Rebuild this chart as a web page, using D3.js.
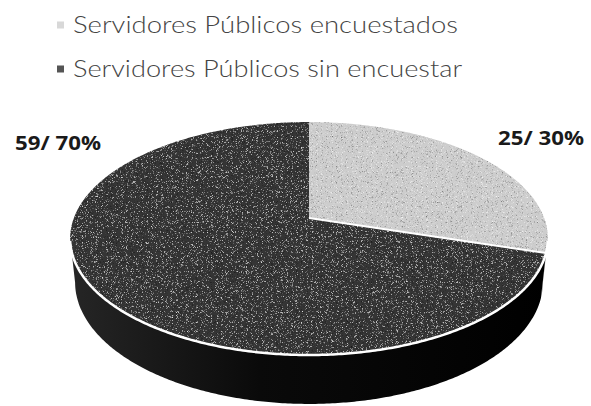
<!DOCTYPE html>
<html>
<head>
<meta charset="utf-8">
<script src="https://cdn.jsdelivr.net/npm/d3@7"></script>
<style>
  body { margin: 0; background: #fff; }
  svg { display: block; }
</style>
</head>
<body>
<svg width="591" height="406"></svg>
<script>
// data
const categories = ["Servidores Públicos encuestados", "Servidores Públicos sin encuestar"];
const values = [25, 59];
const colors = ["#cdcdcd", "#363636"];

const width = 591, height = 406;
const total = d3.sum(values);
const labels = values.map(v => `${v}/ ${Math.round(100 * v / total)}%`);

const svg = d3.select("svg");
const defs = svg.append("defs");

// side gradient (a bit lighter on the left, black on the right)
const grad = defs.append("linearGradient")
    .attr("id", "side")
    .attr("gradientUnits", "userSpaceOnUse")
    .attr("x1", 68).attr("x2", 548).attr("y1", 0).attr("y2", 0);
grad.append("stop").attr("offset", "0%").attr("stop-color", "#262626");
grad.append("stop").attr("offset", "40%").attr("stop-color", "#0a0a0a");
grad.append("stop").attr("offset", "100%").attr("stop-color", "#000");

// scan grain, only on the top faces
const grain = defs.append("filter").attr("id", "grain")
    .attr("x", 0).attr("y", 0).attr("width", "100%").attr("height", "100%");
grain.append("feTurbulence").attr("type", "fractalNoise").attr("baseFrequency", 1.8)
    .attr("numOctaves", 1).attr("seed", 4).attr("result", "n");
grain.append("feColorMatrix").attr("in", "n").attr("type", "matrix")
    .attr("values", "0 0 0 0 1  0 0 0 0 1  0 0 0 0 1  3 0 0 0 -1.75").attr("result", "w");
grain.append("feComposite").attr("in", "w").attr("in2", "SourceGraphic").attr("operator", "in").attr("result", "wd");
grain.append("feColorMatrix").attr("in", "n").attr("type", "matrix")
    .attr("values", "0 0 0 0 0  0 0 0 0 0  0 0 0 0 0  -3 0 0 0 1.25").attr("result", "b");
grain.append("feComposite").attr("in", "b").attr("in2", "SourceGraphic").attr("operator", "in").attr("result", "bd");
const merge = grain.append("feMerge");
merge.append("feMergeNode").attr("in", "SourceGraphic");
merge.append("feMergeNode").attr("in", "wd");
merge.append("feMergeNode").attr("in", "bd");

// ---- legend ----
const legend = svg.append("g");
categories.forEach((name, i) => {
    const y = 25 + i * 44;
    legend.append("rect")
        .attr("x", 57).attr("y", y - 3.5)
        .attr("width", 7).attr("height", 7)
        .attr("fill", i === 0 ? "#d8d8d8" : "#555");
    legend.append("text")
        .attr("x", 73).attr("y", y + 8)
        .attr("font-family", "Lato, 'Open Sans', sans-serif")
        .attr("font-weight", 300)
        .attr("font-size", 23)
        .attr("fill", "#444")
        .attr("textLength", i === 0 ? 385 : 389)
        .attr("lengthAdjust", "spacingAndGlyphs")
        .text(name);
});

// ---- 3D pie (perspective projection of a disc) ----
const cx = 309, cy = 218;   // centre of the disc on screen
const k = 1171, D = 4.98;   // focal scale, camera distance (radius = 1)
const s = 0.48, c = Math.sqrt(1 - s * s); // tilt
const h = 0.214;            // thickness

function proj(theta, Y) {
    const X = Math.sin(theta), Z = Math.cos(theta);
    const depth = D + c * Z - s * Y;
    return [cx + k * X / depth, cy - k * (c * Y + s * Z) / depth];
}

function rim(a0, a1, Y) {
    const n = Math.max(2, Math.ceil((a1 - a0) / 0.01));
    return d3.range(n + 1).map(i => proj(a0 + (a1 - a0) * i / n, Y));
}

const pie = d3.pie().sort(null).value(d => d)(values);
const line = d3.line();

// visible part of the side wall
const va = Math.acos(-c / D), vb = 2 * Math.PI - va;

const sides = svg.append("g");
pie.forEach((d, i) => {
    const t0 = Math.max(d.startAngle, va), t1 = Math.min(d.endAngle, vb);
    if (t0 < t1) {
        const pts = rim(t0, t1, 0).concat(rim(t0, t1, -h).reverse());
        sides.append("path")
            .attr("d", line(pts) + "Z")
            .attr("fill", i === 0 ? "#8a8a8a" : "url(#side)");
    }
});

const tops = svg.append("g").attr("filter", "url(#grain)");
pie.forEach((d, i) => {
    const pts = [[cx, cy]].concat(rim(d.startAngle, d.endAngle, 0));
    tops.append("path")
        .attr("d", line(pts) + "Z")
        .attr("fill", colors[i]);
});

// white highlights: front rim and the slice boundary
svg.append("path")
    .attr("d", line(rim(va + 0.02, vb - 0.02, 0)))
    .attr("fill", "none")
    .attr("stroke", "#fff")
    .attr("stroke-width", 2.5);

svg.append("path")
    .attr("d", line([[cx, cy], proj(pie[0].endAngle, 0)]))
    .attr("stroke", "#fff")
    .attr("stroke-width", 2);

// ---- data labels ----
const labelPos = [[541, 145], [58, 150]];
labels.forEach((t, i) => {
    svg.append("text")
        .attr("x", labelPos[i][0]).attr("y", labelPos[i][1])
        .attr("text-anchor", "middle")
        .attr("font-family", "'Open Sans', sans-serif")
        .attr("font-weight", 700)
        .attr("font-size", 20)
        .attr("fill", "#1a1a1a")
        .attr("textLength", 86)
        .attr("lengthAdjust", "spacingAndGlyphs")
        .text(t);
});
</script>
</body>
</html>
